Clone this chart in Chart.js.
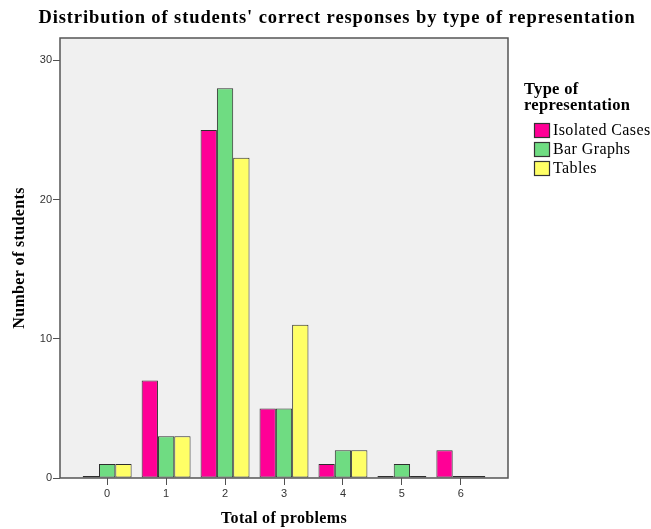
<!DOCTYPE html>
<html>
<head>
<meta charset="utf-8">
<script src="https://cdn.jsdelivr.net/npm/chart.js@4"></script>
<style>
  html, body { margin: 0; padding: 0; background: #fff; }
  #wrap { width: 651px; height: 529px; }
</style>
</head>
<body>
<div id="wrap"><canvas id="distChart" width="651" height="529"></canvas></div>
<script>
const problems = [0, 1, 2, 3, 4, 5, 6];
const seriesNames = ['Isolated Cases', 'Bar Graphs', 'Tables'];
const isolatedCases = [0, 7, 25, 5, 1, 0, 2];
const barGraphs = [1, 3, 28, 5, 2, 1, 0];
const tables = [1, 3, 23, 11, 2, 0, 0];
const yTicks = [0, 10, 20, 30];

const chartTitle = "Distribution of students' correct responses by type of representation";
const xTitle = 'Total of problems';
const yTitle = 'Number of students';
const legendTitle = ['Type of', 'representation'];

const colors = ['#ff0096', '#6fdc82', '#ffff66'];
const serif = '"Liberation Serif", "Times New Roman", serif';
const sans = '"Liberation Sans", Arial, sans-serif';

function toPoints(values) {
    return values.map((v, i) => ({x: problems[i], y: v}));
}

// plot background + frame
const frame = {
    id: 'frame',
    beforeDatasetsDraw(chart) {
        const {ctx, chartArea: a} = chart;
        ctx.save();
        ctx.fillStyle = '#f0f0f0';
        ctx.fillRect(a.left, a.top, a.right - a.left, a.bottom - a.top);
        ctx.restore();
    },
    afterDatasetsDraw(chart) {
        const {ctx, chartArea: a} = chart;
        ctx.save();
        ctx.strokeStyle = '#555';
        ctx.lineWidth = 1.5;
        ctx.strokeRect(a.left, a.top, a.right - a.left, a.bottom - a.top);
        ctx.restore();
    }
};

// SPSS style text is wide, so titles are drawn here with a little letter spacing
function spacedText(ctx, text, x, y, font, spacing) {
    ctx.font = font;
    ctx.letterSpacing = spacing + 'px';
    ctx.fillText(text, x, y);
}

const texts = {
    id: 'texts',
    afterDraw(chart) {
        const ctx = chart.ctx;
        const a = chart.chartArea;
        ctx.save();
        ctx.fillStyle = '#000';
        ctx.textBaseline = 'middle';
        ctx.textAlign = 'center';
        spacedText(ctx, chartTitle, 337, 18, 'bold 18.5px ' + serif, 0.9);
        spacedText(ctx, xTitle, (a.left + a.right) / 2, 519, 'bold 16px ' + serif, 0.35);
        ctx.save();
        ctx.translate(20, (a.top + a.bottom) / 2);
        ctx.rotate(-Math.PI / 2);
        spacedText(ctx, yTitle, 0, 0, 'bold 16px ' + serif, 0.35);
        ctx.restore();

        // legend
        ctx.textAlign = 'left';
        legendTitle.forEach((line, i) => {
            spacedText(ctx, line, 524, 90 + i * 16, 'bold 16.5px ' + serif, 0.3);
        });
        chart.data.datasets.forEach((ds, i) => {
            const y = 123 + i * 19;
            ctx.fillStyle = ds.backgroundColor;
            ctx.fillRect(534, y, 16, 15);
            ctx.strokeStyle = '#333';
            ctx.lineWidth = 1.2;
            ctx.strokeRect(534.5, y + 0.5, 15, 14);
            ctx.fillStyle = '#000';
            spacedText(ctx, ds.label, 553, y + 8, '16px ' + serif, 0.4);
        });
        ctx.restore();
    }
};

const data = {
    datasets: [isolatedCases, barGraphs, tables].map((vals, i) => {
        return {
            label: seriesNames[i],
            data: toPoints(vals),
            backgroundColor: colors[i],
            borderColor: '#2e2e2e',
            borderWidth: 1,
            borderSkipped: false,
            minBarLength: 2,
            categoryPercentage: 0.83,
            barPercentage: 1.0
        }
    })
};

const config = {
    type: 'bar',
    data: data,
    options: {
        responsive: false,
        animation: false,
        layout: {
            padding: {left: 0, right: 143, top: 38, bottom: 0}
        },
        scales: {
            x: {
                type: 'linear',
                min: -0.8,
                max: 6.8,
                offset: false,
                grid: {
                    offset: false,
                    drawOnChartArea: false,
                    drawTicks: true,
                    tickLength: 7,
                    color: '#505050'
                },
                border: {display: false},
                ticks: {
                    stepSize: 1,
                    includeBounds: false,
                    padding: 2,
                    color: '#333',
                    font: {family: sans, size: 11}
                },
                afterFit: function (scale) {
                    scale.height = 51;
                }
            },
            y: {
                min: 0,
                max: 31.6,
                grid: {
                    drawOnChartArea: false,
                    drawTicks: true,
                    tickLength: 7,
                    color: '#505050'
                },
                border: {display: false},
                afterBuildTicks: function (scale) {
                    scale.ticks = yTicks.map(v => ({value: v}));
                },
                ticks: {
                    includeBounds: false,
                    padding: 1,
                    color: '#333',
                    font: {family: sans, size: 11}
                },
                afterFit: function (scale) {
                    scale.width = 60;
                }
            }
        },
        plugins: {
            legend: {display: false},
            tooltip: {enabled: false},
            title: {display: false}
        }
    },
    plugins: [frame, texts]
};

new Chart("distChart", config)
</script>
</body>
</html>
